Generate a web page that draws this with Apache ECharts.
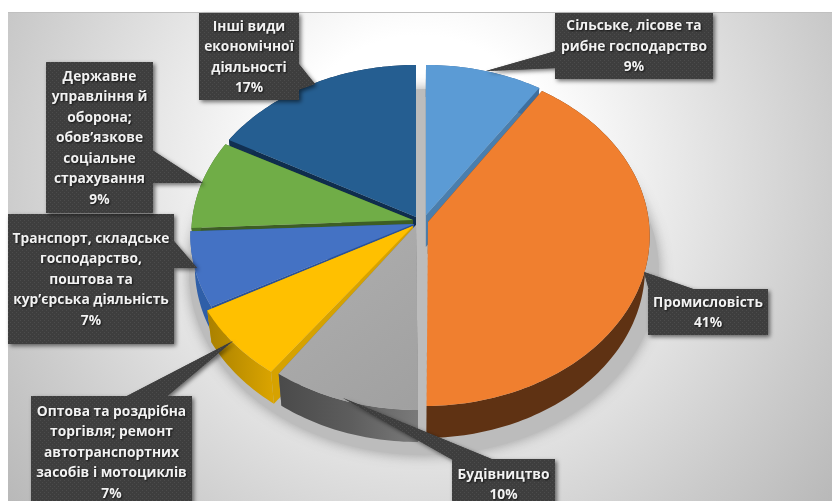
<!DOCTYPE html>
<html><head><meta charset="utf-8">
<style>html,body{margin:0;padding:0;background:#fff}#c{width:832px;height:501px}</style>
<script src="https://cdn.jsdelivr.net/npm/echarts@6/dist/echarts.min.js"></script>
</head><body><div id="c"></div>
<script>
// ---- data ----
const categories = [
  'Сільське, лісове та\nрибне господарство',
  'Промисловість',
  'Будівництво',
  'Оптова та роздрібна\nторгівля; ремонт\nавтотранспортних\nзасобів і мотоциклів',
  'Транспорт, складське\nгосподарство,\nпоштова та\nкур’єрська діяльність',
  'Державне\nуправління й\nоборона;\nобов’язкове\nсоціальне\nстрахування',
  'Інші види\nекономічної\nдіяльності'
];
const shares = [9, 41, 10, 7, 7, 9, 17];

// ---- style ----
const topColors  = ['#5b9bd5','#f07f2f','#a5a5a5','#ffc000','#4472c4','#70ad47','#255e91'];
const wallColors = ['#3f6f9e','#5f3213','#5a5a5a','#c49400','#2f5fa8','#47702c','#123052'];
const cutColors  = ['#4a7ead','#7a4017','#6e6e6e','#d6a200','#2a5298','#3d5e25','#0f2d4d'];
const arcShift = [[10,0],[8,1],[2,5],[-4,4],[0,0],[1,-1],[0,0]];
const tipShift = [[10,-7],[12,0],[0,3],[-3,4],[-2,2],[-3,-2],[0,-5]];
const trimDeg  = [[0,0],[1.5,-0.6],[0,-0.5],[0,0],[0,0.5],[1.2,-0.7],[1.5,0]];
const drawOrder = [1,3,6,5,4,2,0];
const view = {cx:416, cy:222, R:225, H:169, k:0.0765, depth:32, inset:0.98};
const boxes = [
  {x:555,y:13,w:158,h:66,tail:[[556,51],[486,71],[556,68]]},
  {x:648,y:289,w:120,h:46,tail:[[696,290],[644,272],[649,290]]},
  {x:452,y:459,w:103,h:50,tail:[[494,460],[343,398],[453,460]]},
  {x:31,y:396,w:161,h:112,tail:[[125,397],[233,341],[166,397]]},
  {x:8,y:214,w:166,h:130,tail:[[173,240],[197,268],[173,268]]},
  {x:46,y:62,w:107,h:151,tail:[[152,150],[203,183],[152,183]]},
  {x:199,y:13,w:100,h:87,tail:[[298,63],[315,84],[298,90]]}
];
const total = shares.reduce((a,b)=>a+b,0);

function project(a){
  const X=Math.sin(a), Y=Math.cos(a), s=1/(1+view.k*Y);
  return [view.cx+view.R*X*s, view.cy-view.H*Y*s];
}
function texture(){
  const c=document.createElement('canvas'); c.width=4; c.height=4;
  const g=c.getContext('2d');
  g.fillStyle='#3e3e3e'; g.fillRect(0,0,4,4);
  g.fillStyle='#4c4c4c'; g.fillRect(0,0,1,1); g.fillRect(2,2,1,1);
  return {image:c,repeat:'repeat'};
}
const boxFill = texture();

function sliceEls(i, a0, a1){
  const rad=Math.PI/180;
  a0+=trimDeg[i][0]*rad; a1+=trimDeg[i][1]*rad;
  const n=Math.max(8,Math.ceil((a1-a0)/0.02));
  const as=arcShift[i], ts=tipShift[i], d=view.depth;
  const arc=[];
  for(let j=0;j<=n;j++){
    const p=project(a0+(a1-a0)*j/n);
    arc.push([p[0]+as[0],p[1]+as[1]]);
  }
  const tip=[view.cx+ts[0],view.cy+ts[1]];
  const dn=p=>[view.cx+(p[0]-view.cx)*view.inset,p[1]+d];
  const z=20+drawOrder[i]*10;
  const wall=arc.concat(arc.slice().reverse().map(dn));
  let wallFill=wallColors[i];
  if(i===2) wallFill={type:'linear',x:0,y:0,x2:1,y2:0,colorStops:[{offset:0,color:'#4a4a4a'},{offset:.5,color:'#5c5c5c'},{offset:1,color:'#7a7a7a'}]};
  if(i===3) wallFill={type:'linear',x:0,y:0,x2:1,y2:0,colorStops:[{offset:0,color:'#a98000'},{offset:1,color:'#dba500'}]};
  const a=arc[0], b=arc[arc.length-1];
  const topFill = i===2
    ? {type:'linear',x:0,y:0,x2:1,y2:1,colorStops:[{offset:0,color:'#b0b0b0'},{offset:1,color:'#a0a0a0'}]}
    : topColors[i];
  return [
    {type:'polygon',z2:z,shape:{points:[tip,a,dn(a),dn(tip)]},style:{fill:cutColors[i]},silent:true},
    {type:'polygon',z2:z,shape:{points:[tip,b,dn(b),dn(tip)]},style:{fill:cutColors[i]},silent:true},
    {type:'polygon',z2:z+1,shape:{points:wall},style:{fill:wallFill},silent:true},
    {type:'polygon',z2:z+2,shape:{points:[tip].concat(arc)},style:{fill:topFill}}
  ];
}
function labelEls(i, val){
  const b=boxes[i];
  const fx={shadowBlur:4,shadowOffsetX:2,shadowOffsetY:2,shadowColor:'rgba(0,0,0,0.55)'};
  return [
    {type:'polygon',z2:199,silent:true,shape:{points:b.tail},style:Object.assign({fill:boxFill},fx)},
    {type:'rect',z2:200,silent:true,shape:{x:b.x,y:b.y,width:b.w,height:b.h},style:Object.assign({fill:boxFill},fx)},
    {type:'polygon',z2:201,silent:true,shape:{points:b.tail},style:{fill:boxFill}},
    {type:'text',z2:202,silent:true,style:{
      text:categories[i]+'\n'+val+'%',
      x:b.x+b.w/2, y:b.y+b.h/2+1,
      align:'center',verticalAlign:'middle',lineHeight:20.5,
      font:'bold 13.8px "Open Sans", sans-serif',
      fill:'#f2f2f2',textShadowBlur:2,textShadowColor:'rgba(0,0,0,0.7)',textShadowOffsetX:1,textShadowOffsetY:1
    }}
  ];
}
function shadowEl(){
  const pts=[];
  for(let j=0;j<120;j++){
    const t=j/120*Math.PI*2;
    pts.push([424+235*Math.cos(t),272+183*Math.sin(t)]);
  }
  return {type:'polygon',z2:1,silent:true,shape:{points:pts},
    style:{fill:'#bcbcbc',shadowBlur:14,shadowColor:'rgba(90,90,90,0.55)'}};
}

const chart=echarts.init(document.getElementById('c'),null,{renderer:'canvas'});
chart.setOption({
  animation:false,
  tooltip:{show:false},
  graphic:[
    {type:'rect',z:-10,silent:true,shape:{x:8,y:12,width:824,height:489},
     style:{fill:{type:'radial',x:.5,y:.32,r:1.09,colorStops:[
       {offset:0,color:'#ffffff'},{offset:.25,color:'#ffffff'},{offset:.56,color:'#e1e1e1'},
       {offset:.79,color:'#cbcbcb'},{offset:1,color:'#b8b8b8'}]}}},
    {type:'rect',z:-9,silent:true,shape:{x:8,y:12,width:824,height:1},style:{fill:'#c0c0c0'}}
  ],
  series:[{
    type:'custom',
    coordinateSystem:'none',
    clip:false,
    data:shares.map((v,i)=>({name:categories[i].replace(/\n/g,' '),value:v})),
    renderItem:function(params,api){
      const i=params.dataIndex, val=api.value(0);
      let before=0;
      for(let j=0;j<i;j++) before+=shares[j];
      const a0=before/total*Math.PI*2, a1=(before+val)/total*Math.PI*2;
      const kids=sliceEls(i,a0,a1).concat(labelEls(i,val));
      if(i===0) kids.unshift(shadowEl());
      return {type:'group',children:kids};
    }
  }]
});
</script></body></html>
